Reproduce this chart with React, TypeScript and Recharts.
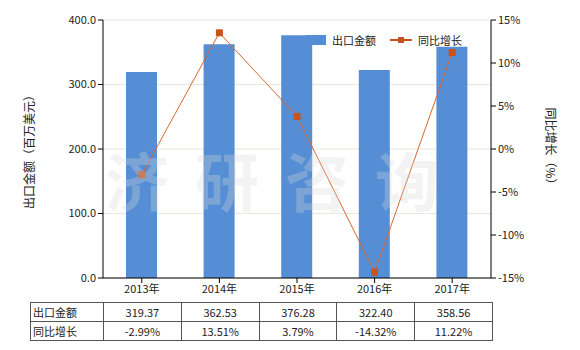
import {
  ComposedChart,
  Bar,
  Line,
  XAxis,
  YAxis,
  CartesianGrid,
} from "recharts";

const years = ["2013年", "2014年", "2015年", "2016年", "2017年"];
const exportValue = [319.37, 362.53, 376.28, 322.4, 358.56];
const growth = [-2.99, 13.51, 3.79, -14.32, 11.22];
const leftTicks = [0, 100, 200, 300, 400];
const rightTicks = [-15, -10, -5, 0, 5, 10, 15];

const BAR = "#558ed5";
const LINE = "#d9662e";
const DOT = "#c9531a";
const FONT = '"Noto Sans CJK SC", "Noto Sans", sans-serif';

const data = years.map((y, i) => ({ name: y, value: exportValue[i], growth: growth[i] }));

function SquareDot(props: any) {
  const { cx, cy } = props;
  if (cx == null || cy == null) return null;
  return <rect x={cx - 3.5} y={cy - 3.5} width={7} height={7} fill={DOT} />;
}

function LegendBox() {
  return (
    <div
      style={{
        position: "absolute",
        left: 306,
        top: 32,
        display: "flex",
        alignItems: "center",
        fontSize: 11,
        color: "#222",
        fontFamily: FONT,
      }}
    >
      <span style={{ width: 20, height: 10, background: BAR, display: "inline-block", marginRight: 6 }} />
      <span style={{ marginRight: 14 }}>出口金额</span>
      <svg width={22} height={10} style={{ marginRight: 6 }}>
        <line x1={0} y1={5} x2={22} y2={5} stroke={DOT} strokeWidth={2} />
        <rect x={8} y={2} width={6} height={6} fill={DOT} />
      </svg>
      <span>同比增长</span>
    </div>
  );
}

const tick = { fontSize: 11, fill: "#222", fontFamily: FONT };
const cell: React.CSSProperties = {
  border: "1px solid #555",
  padding: 0,
  height: 18,
  textAlign: "center",
  fontSize: 11,
  color: "#222",
};

export default function App() {
  return (
    <div style={{ position: "absolute", left: 0, top: 0, width: 580, height: 350, background: "#fff", fontFamily: FONT }}>
      <ComposedChart width={580} height={350} data={data} margin={{ top: 20, right: 0, bottom: 0, left: 0 }}>
        <CartesianGrid vertical={false} stroke="#e8e8dc" yAxisId="left" />
        <XAxis
          dataKey="name"
          tick={tick}
          axisLine={{ stroke: "#000" }}
          tickLine={{ stroke: "#000" }}
          tickSize={5}
          height={72}
        />
        <YAxis
          yAxisId="left"
          domain={[0, 400]}
          ticks={leftTicks}
          tickFormatter={(v: number) => v.toFixed(1)}
          tick={tick}
          axisLine={{ stroke: "#000" }}
          tickLine={{ stroke: "#000" }}
          tickSize={5}
          width={103}
        />
        <YAxis
          yAxisId="right"
          orientation="right"
          domain={[-15, 15]}
          ticks={rightTicks}
          tickFormatter={(v: number) => `${v}%`}
          tick={tick}
          axisLine={{ stroke: "#000" }}
          tickLine={{ stroke: "#000" }}
          tickSize={5}
          width={89}
        />
        <Bar yAxisId="left" dataKey="value" name="出口金额" fill={BAR} barSize={31} isAnimationActive={false} />
        <Line
          yAxisId="right"
          dataKey="growth"
          name="同比增长"
          stroke={LINE}
          strokeWidth={1}
          dot={<SquareDot />}
          activeDot={false}
          isAnimationActive={false}
        />
      </ComposedChart>
      <svg width={580} height={350} style={{ position: "absolute", left: 0, top: 0, pointerEvents: "none" }}>
        <text
          x={285}
          y={206}
          textAnchor="middle"
          fontSize={64}
          fill="#d8d8d8"
          fillOpacity={0.3}
          fontWeight="bold"
          letterSpacing={26}
          fontFamily={FONT}
        >
          济研咨询
        </text>
        <text
          transform="translate(34,149) rotate(-90)"
          textAnchor="middle"
          fontSize={12}
          fill="#222"
          fontFamily={FONT}
        >
          出口金额（百万美元）
        </text>
        <text
          transform="translate(546,149) rotate(90)"
          textAnchor="middle"
          fontSize={12}
          fill="#222"
          fontFamily={FONT}
        >
          同比增长（%）
        </text>
      </svg>
      <LegendBox />
      <table
        style={{
          position: "absolute",
          left: 30,
          top: 302,
          borderCollapse: "collapse",
          tableLayout: "fixed",
          width: 462,
          fontFamily: FONT,
        }}
      >
        <colgroup>
          <col style={{ width: 73 }} />
          {years.map((y) => (
            <col key={y} style={{ width: 77.8 }} />
          ))}
        </colgroup>
        <tbody>
          <tr>
            <td style={{ ...cell, textAlign: "left", paddingLeft: 2 }}>出口金额</td>
            {exportValue.map((v, i) => (
              <td key={i} style={cell}>{v.toFixed(2)}</td>
            ))}
          </tr>
          <tr>
            <td style={{ ...cell, textAlign: "left", paddingLeft: 2 }}>同比增长</td>
            {growth.map((v, i) => (
              <td key={i} style={cell}>{v.toFixed(2)}%</td>
            ))}
          </tr>
        </tbody>
      </table>
    </div>
  );
}
